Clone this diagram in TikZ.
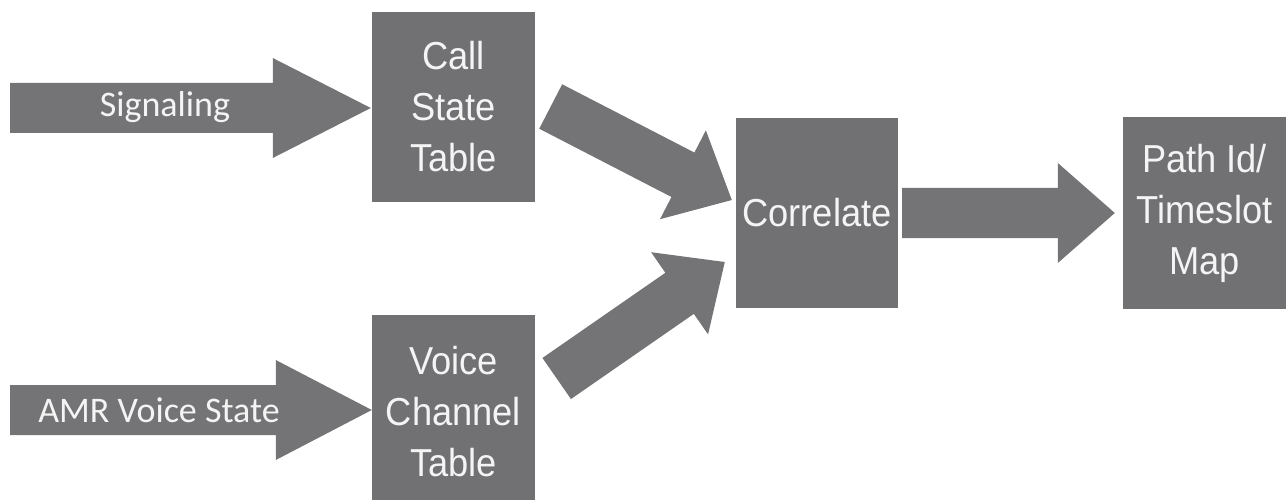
\documentclass[tikz,border=0pt]{standalone}
\usepackage{fontspec}
\usetikzlibrary{calc}
\newfontfamily\boxfont[FakeStretch=0.93]{Liberation Sans}
\newfontfamily\lblfont{Carlito}
\definecolor{blockgray}{HTML}{717174}
\definecolor{arrowgray}{HTML}{747477}
\definecolor{txtwhite}{HTML}{F4F4F4}

% Block arrow from #1 (tail centre) to #2 (tip), head length #3;
% shaft 50pt wide, head 100pt wide.
\newcommand\blockarrow[3]{%
  \coordinate (hb) at ($(#2)!#3!(#1)$);
  \fill[arrowgray]
    ($(#1)!25pt!90:(#2)$) -- ($(hb)!25pt!90:(#2)$) -- ($(hb)!50pt!90:(#2)$) --
    (#2) --
    ($(hb)!50pt!-90:(#2)$) -- ($(hb)!25pt!-90:(#2)$) -- ($(#1)!25pt!-90:(#2)$) -- cycle;
}

\begin{document}
\begin{tikzpicture}[x=1pt,y=-1pt,
  block/.style={fill=blockgray, text=txtwhite, align=center, inner sep=0pt,
    font=\boxfont\fontsize{39}{51}\selectfont},
  arrowlbl/.style={text=txtwhite, inner sep=0pt,
    font=\lblfont\fontsize{36}{40}\selectfont}]
\useasboundingbox (0,0) rectangle (1286,500);
\clip (0,0) rectangle (1286,500);

% processing blocks
\node[block, minimum width=163pt, minimum height=190pt] (cst) at (453.5,107) {Call\\State\\Table};
\node[block, minimum width=163pt, minimum height=194pt] (vct) at (453.5,412) {Voice\\Channel\\Table};
\node[block, minimum width=162pt, minimum height=190pt] (cor) at (817,213) {Correlate};
\node[block, minimum width=163pt, minimum height=192pt] (pth) at (1204.5,213) {Path Id/\\Timeslot\\Map};

% input streams
\coordinate (sigtail) at (10,108);
\coordinate (amrtail) at (10,410);
\coordinate (sigtip) at ($(cst.west)+(-1,1)$);
\coordinate (amrtip) at ($(vct.west)+(0,-2)$);
\blockarrow{sigtail}{sigtip}{98pt}
\blockarrow{amrtail}{amrtip}{96pt}
\node[arrowlbl] (siglbl) at (165,107) {Signaling};
\node[arrowlbl] (amrlbl) at (159,410) {AMR Voice State};

% tables into correlation
\coordinate (ctail) at ($(cst.east)+(15.5,-0.5)$);
\coordinate (ctip) at ($(cor.west)+(-4,-13)$);
\blockarrow{ctail}{ctip}{55pt}
\coordinate (vtail) at ($(vct.east)+(21.5,-33.5)$);
\coordinate (vtip) at ($(cor.west)+(-11,49)$);
\blockarrow{vtail}{vtip}{55pt}

% correlation into the map
\coordinate (otail) at ($(cor.east)+(4,0)$);
\coordinate (otip) at ($(pth.west)+(-8,0)$);
\blockarrow{otail}{otip}{57pt}
\end{tikzpicture}
\end{document}
